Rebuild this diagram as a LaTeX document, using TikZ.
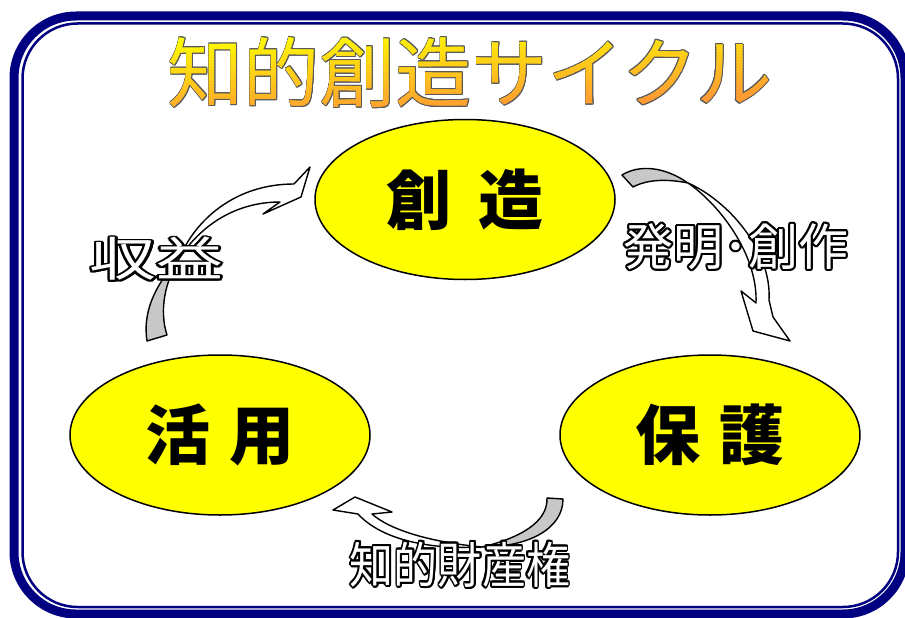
\documentclass[tikz,border=0pt]{standalone}
\usepackage{fontspec}
\newfontfamily\jp{Noto Sans CJK JP}
\usetikzlibrary{shapes.geometric}
\definecolor{navyline}{HTML}{000080}
\definecolor{titleorange}{HTML}{FF9933}
\definecolor{titleyellow}{HTML}{FFFF00}
\definecolor{titleedge}{HTML}{5A5A5A}
\definecolor{arrowgray}{HTML}{C8C8C8}
\definecolor{ellyellow}{HTML}{FFFF00}
\newcommand\outlinetxt[4]{%
  \foreach \ang in {0,22.5,...,337.5}{%
    \pgfmathsetmacro\odx{#1*cos(\ang)}%
    \pgfmathsetmacro\ody{#1*sin(\ang)}%
    \rlap{\hspace*{\odx pt}\raisebox{\ody pt}{\textcolor{#2}{#4}}}}%
  \textcolor{#3}{#4}}
\begin{document}
\begin{tikzpicture}[x=1pt,y=-1pt,
  titletext/.style={inner sep=0pt, font=\jp\fontsize{76}{76}\selectfont},
  ell/.style={ellipse, draw=black, line width=1.5pt, fill=ellyellow, minimum width=300pt, minimum height=160pt, inner sep=0pt, font=\jp\bfseries\fontsize{65}{65}\selectfont},
  ribbonline/.style={draw=black, line width=1.4pt, line join=round},
  lbl/.style={inner sep=0pt}]
\useasboundingbox (0,0) rectangle (905,618);
\fill[white] (0,0) rectangle (905,618);
% frame
\draw[navyline, line width=9pt, rounded corners=62pt] (14,16) rectangle (905,614);
\draw[navyline, line width=2.5pt, rounded corners=55pt] (22.5,23.5) rectangle (898,607);
% title outline
\node[titletext] (titleedge) at (470,72.5) {\outlinetxt{0.9}{titleedge}{titleedge}{知的創造サイクル}};
% title gradient by strips
\foreach \k in {0,...,29}{
  \pgfmathsetmacro\ta{ifthenelse(\k==0,-1,\k/30-0.01)}
  \pgfmathsetmacro\tb{ifthenelse(\k==29,2,(\k+1)/30)}
  \pgfmathsetmacro\mixv{100*(1-(\k+0.5)/30)}
  \begin{scope}
    \clip (150,{38+89.33*(\ta+0.0086)}) -- (790,{38+89.33*(\ta-0.3586)}) -- (790,{38+89.33*(\tb-0.3586)}) -- (150,{38+89.33*(\tb+0.0086)}) -- cycle;
    \node[titletext, text=titleyellow!\mixv!titleorange] (title-\k) at (470,72.5) {知的創造サイクル};
  \end{scope}
}
% arrow 1 (katsuyou -> souzou)
\draw[ribbonline, fill=arrowgray] (147,341) .. controls (143,315) and (152,288) .. (179,259) .. controls (165,282) and (159,310) .. (167,335) -- cycle;
\draw[ribbonline, fill=white] (179,259) .. controls (195,220) and (235,184) .. (294,184) -- (310,167) -- (301,197) -- (263,214) -- (280,202) .. controls (235,202) and (200,226) .. (179,259) -- cycle;
% arrow 2 (souzou -> hogo)
\draw[ribbonline, fill=arrowgray] (622,175) .. controls (640,164) and (665,167) .. (688,183) .. controls (668,179) and (648,179) .. (633,187) -- cycle;
\draw[ribbonline, fill=white] (688,183) .. controls (727,200) and (772,250) .. (769,300) -- (773,317) -- (790,341) -- (753,331) -- (741,291) -- (756,303) .. controls (758,255) and (720,205) .. (688,183) -- cycle;
% arrow 3 (hogo -> katsuyou)
\draw[ribbonline, fill=arrowgray] (547,498) .. controls (548,522) and (520,538) .. (482,547) .. controls (530,547) and (563,528) .. (563,499) -- cycle;
\draw[ribbonline, fill=white] (482,547) .. controls (425,550) and (380,538) .. (358,514) -- (333,510) -- (355,497) -- (392,512) -- (372,514) .. controls (390,530) and (430,542) .. (482,547) -- cycle;
% labels
\node[lbl, font=\jp\fontsize{47}{47}\selectfont] (shueki) at (156.5,259) {\scalebox{1.42}[1]{\outlinetxt{1.8}{black}{white}{収益}}};
\node[lbl, font=\jp\fontsize{50}{50}\selectfont] (hatsumei) at (736,246.5) {\outlinetxt{2}{black}{white}{発明･創作}};
\node[lbl, font=\jp\fontsize{49}{49}\selectfont] (zaisan) at (460,564.5) {\scalebox{0.9}[1]{\outlinetxt{2}{black}{white}{知的財産権}}};
% ellipses
\node[ell] (souzou) at (465,199.5) {創\hspace{27pt}造};
\node[ell] (katsuyou) at (220,435) {活\hspace{20pt}用};
\node[ell] (hogo) at (710,435) {保\hspace{20pt}護};
\end{tikzpicture}
\end{document}
